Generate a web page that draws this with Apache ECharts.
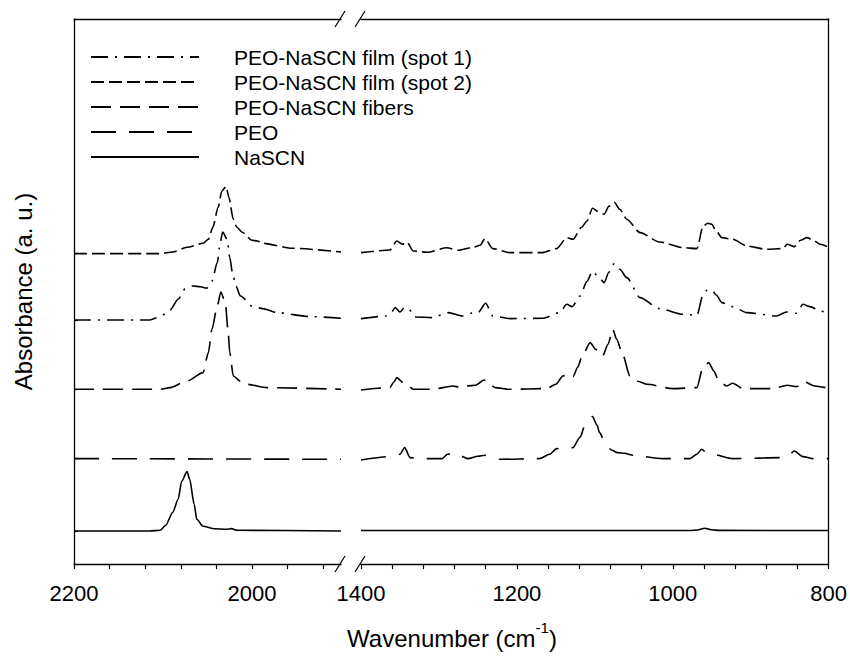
<!DOCTYPE html>
<html>
<head>
<meta charset="utf-8">
<title>FTIR spectra</title>
<script src="https://cdn.jsdelivr.net/npm/echarts@6/dist/echarts.min.js"></script>
<style>
html, body { margin: 0; padding: 0; background: #fff; }
#chart { width: 850px; height: 656px; }
</style>
</head>
<body>
<div id="chart"></div>
<script>
// spectra as [wavenumber, absorbance (a.u., already offset)]
const spot1 = [
  [2200, 2.44], [2115, 2.44], [2103, 2.474], [2092, 2.54], [2083, 2.647], [2075, 2.754], [2066, 2.78],
  [2058, 2.772], [2051, 2.757], [2045, 2.83], [2039, 3.014], [2036, 3.197], [2033, 3.32], [2028, 3.247],
  [2025, 3.067], [2022, 2.914], [2018, 2.777], [2013, 2.68], [1999, 2.574], [1988, 2.554], [1972, 2.514],
  [1935, 2.474], [1900, 2.457],
  [1400, 2.454], [1367, 2.48], [1361, 2.517], [1356, 2.564], [1350, 2.52], [1345, 2.557], [1340, 2.564],
  [1331, 2.47], [1308, 2.464], [1288, 2.514], [1270, 2.48], [1260, 2.507], [1250, 2.514], [1240, 2.607],
  [1231, 2.48], [1209, 2.454], [1167, 2.457], [1145, 2.514], [1136, 2.597], [1129, 2.574], [1119, 2.68],
  [1110, 2.827], [1103, 2.93], [1096, 2.877], [1088, 2.814], [1082, 2.917], [1075, 3.004], [1068, 2.947],
  [1059, 2.864], [1042, 2.664], [1017, 2.554], [987, 2.497], [969, 2.487], [961, 2.697], [956, 2.737],
  [950, 2.74], [944, 2.687], [937, 2.614], [923, 2.574], [905, 2.514], [867, 2.48], [854, 2.52],
  [841, 2.507], [833, 2.597], [824, 2.574], [811, 2.53], [800, 2.507]
];
const spot2 = [
  [2200, 3.104], [2103, 3.104], [2089, 3.12], [2073, 3.167], [2055, 3.207], [2049, 3.247], [2044, 3.367],
  [2038, 3.567], [2034, 3.727], [2029, 3.777], [2026, 3.667], [2021, 3.447], [2017, 3.367], [2011, 3.317],
  [2000, 3.237], [1994, 3.23], [1988, 3.207], [1954, 3.157], [1900, 3.12],
  [1400, 3.114], [1363, 3.14], [1354, 3.23], [1347, 3.197], [1341, 3.22], [1333, 3.13], [1315, 3.117],
  [1290, 3.162], [1276, 3.137], [1256, 3.167], [1247, 3.187], [1241, 3.254], [1231, 3.154], [1209, 3.114],
  [1167, 3.114], [1149, 3.154], [1136, 3.264], [1128, 3.247], [1117, 3.367], [1110, 3.43], [1103, 3.557],
  [1096, 3.527], [1088, 3.497], [1082, 3.577], [1075, 3.617], [1068, 3.547], [1059, 3.447], [1042, 3.314],
  [1017, 3.22], [987, 3.164], [969, 3.154], [961, 3.38], [955, 3.407], [950, 3.397], [944, 3.327],
  [937, 3.264], [923, 3.247], [905, 3.18], [880, 3.147], [859, 3.154], [853, 3.197], [844, 3.174],
  [836, 3.237], [828, 3.264], [820, 3.24], [811, 3.197], [800, 3.167]
];
const fibers = [
  [2200, 1.747], [2103, 1.747], [2092, 1.764], [2073, 1.83], [2055, 1.914], [2049, 2.114], [2045, 2.347],
  [2039, 2.58], [2035, 2.72], [2030, 2.614], [2027, 2.347], [2025, 2.114], [2021, 1.88], [2013, 1.827],
  [2006, 1.797], [1983, 1.764], [1900, 1.747],
  [1400, 1.74], [1363, 1.764], [1358, 1.817], [1354, 1.864], [1346, 1.814], [1341, 1.797], [1333, 1.747],
  [1308, 1.747], [1282, 1.78], [1273, 1.767], [1264, 1.78], [1253, 1.787], [1242, 1.84], [1235, 1.797],
  [1228, 1.764], [1209, 1.747], [1162, 1.754], [1150, 1.797], [1141, 1.88], [1135, 1.897], [1128, 1.874],
  [1122, 1.967], [1117, 2.064], [1106, 2.214], [1099, 2.147], [1090, 2.08], [1083, 2.197], [1077, 2.347],
  [1072, 2.247], [1065, 2.114], [1055, 1.88], [1045, 1.827], [1033, 1.797], [1000, 1.754], [969, 1.764],
  [962, 1.947], [954, 2.014], [947, 1.927], [942, 1.847], [931, 1.78], [923, 1.807], [910, 1.754],
  [872, 1.754], [853, 1.787], [841, 1.774], [831, 1.82], [818, 1.78], [800, 1.757]
];
const peo = [
  [2200, 1.054], [1900, 1.047],
  [1400, 1.04], [1363, 1.074], [1350, 1.097], [1344, 1.164], [1337, 1.064], [1324, 1.054], [1296, 1.054],
  [1289, 1.097], [1280, 1.114], [1271, 1.077], [1263, 1.054], [1250, 1.077], [1241, 1.087], [1231, 1.057],
  [1222, 1.047], [1171, 1.054], [1158, 1.097], [1149, 1.154], [1139, 1.14], [1128, 1.164], [1119, 1.267],
  [1113, 1.38], [1103, 1.474], [1097, 1.387], [1094, 1.314], [1085, 1.18], [1078, 1.137], [1071, 1.114],
  [1062, 1.107], [1051, 1.087], [1013, 1.054], [978, 1.054], [969, 1.097], [963, 1.147], [956, 1.112],
  [949, 1.097], [923, 1.054], [859, 1.064], [850, 1.097], [844, 1.13], [833, 1.074], [821, 1.054],
  [800, 1.054]
];
const nascn = [
  [2200, 0.33], [2115, 0.33], [2103, 0.337], [2097, 0.387], [2089, 0.517], [2083, 0.647], [2079, 0.827],
  [2073, 0.924], [2070, 0.847], [2065, 0.597], [2062, 0.447], [2055, 0.377], [2042, 0.352], [2029, 0.347],
  [2023, 0.354], [2017, 0.337], [1900, 0.33],
  [1400, 0.335], [978, 0.335], [968, 0.34], [959, 0.358], [950, 0.342], [940, 0.336], [800, 0.335]
];

const seriesNames = ['PEO-NaSCN film (spot 1)', 'PEO-NaSCN film (spot 2)', 'PEO-NaSCN fibers', 'PEO', 'NaSCN'];
const seriesData = [spot1, spot2, fibers, peo, nascn];
const dashes = [[17, 7, 2, 7], [13, 5], [20, 9], [25, 13], 'solid'];

// axis break: 2200-1900 | 1400-800
const highRange = [1900, 2200];
const lowRange = [800, 1400];
const highTicks = [2200, 2160, 2120, 2080, 2040, 2000, 1960, 1920];
const highLabels = [2200, 2000];
const lowTicks = [1400, 1360, 1320, 1280, 1240, 1200, 1160, 1120, 1080, 1040, 1000, 960, 920, 880, 840, 800];
const lowLabels = [1400, 1200, 1000, 800];
const baselineTicks = [0.33, 1.054, 1.747, 2.44, 3.104];
const yRange = [0, 5.45];

const font = "'Liberation Sans', Arial, sans-serif";
const black = '#000';

const chart = echarts.init(document.getElementById('chart'), null, { renderer: 'svg' });

function bottomAxis(gridIndex, range, ticks, labels) {
  return {
    type: 'value', gridIndex, min: range[0], max: range[1], inverse: true, position: 'bottom',
    splitLine: { show: false },
    axisLine: { lineStyle: { color: black, width: 1.3 } },
    axisTick: { show: true, inside: false, length: 5, customValues: ticks, lineStyle: { color: black, width: 1.2 } },
    axisLabel: {
      customValues: labels, margin: 18, color: black, fontSize: 22, fontFamily: font,
      formatter: v => String(v)
    }
  };
}
function topAxis(gridIndex, range) {
  return {
    type: 'value', gridIndex, min: range[0], max: range[1], inverse: true, position: 'top',
    splitLine: { show: false },
    axisLine: { lineStyle: { color: black, width: 1.3 } },
    axisTick: { show: false }, axisLabel: { show: false }
  };
}

const series = [];
seriesData.forEach((data, i) => {
  [[0, highRange], [1, lowRange]].forEach(([g, r]) => {
    series.push({
      name: seriesNames[i],
      type: 'line',
      xAxisIndex: g,
      yAxisIndex: g,
      data: data.filter(p => p[0] >= r[0] && p[0] <= r[1]),
      symbol: 'none',
      smooth: 0.25,
      smoothMonotone: 'x',
      lineStyle: { color: black, width: 1.6, type: dashes[i] },
      itemStyle: { color: black },
      silent: true
    });
  });
});

const option = {
  animation: false,
  backgroundColor: '#fff',
  grid: [
    { left: 74, top: 19, width: 267, bottom: 92 },
    { left: 361, top: 19, right: 21, bottom: 92 }
  ],
  xAxis: [
    bottomAxis(0, highRange, highTicks, highLabels),
    bottomAxis(1, lowRange, lowTicks, lowLabels),
    topAxis(0, highRange),
    topAxis(1, lowRange)
  ],
  yAxis: [
    {
      type: 'value', gridIndex: 0, min: yRange[0], max: yRange[1], position: 'left',
      name: 'Absorbance (a. u.)', nameLocation: 'middle', nameGap: 39,
      nameTextStyle: { color: black, fontSize: 24, fontFamily: font },
      splitLine: { show: false },
      axisLine: { show: true, lineStyle: { color: black, width: 1.3 } },
      axisTick: { show: true, inside: true, length: 4, customValues: baselineTicks, lineStyle: { color: black, width: 1.2 } },
      axisLabel: { show: false }
    },
    {
      type: 'value', gridIndex: 1, min: yRange[0], max: yRange[1], position: 'right',
      splitLine: { show: false },
      axisLine: { show: true, lineStyle: { color: black, width: 1.3 } },
      axisTick: { show: false }, axisLabel: { show: false }
    }
  ],
  legend: {
    data: seriesNames,
    orient: 'vertical',
    left: 90, top: 45,
    padding: 0,
    itemWidth: 108, itemHeight: 24, itemGap: 1,
    selectedMode: false,
    itemStyle: { opacity: 0, borderWidth: 0 },
    textStyle: { color: black, fontSize: 21, fontFamily: font, lineHeight: 24, padding: [0, 0, 0, 30] }
  },
  graphic: [
    // break marks on the bottom and top axis lines
    { type: 'line', shape: { x1: 335, y1: 572, x2: 345, y2: 556 }, style: { stroke: black, lineWidth: 1.2 } },
    { type: 'line', shape: { x1: 355, y1: 572, x2: 365, y2: 556 }, style: { stroke: black, lineWidth: 1.2 } },
    { type: 'line', shape: { x1: 335, y1: 27, x2: 345, y2: 11 }, style: { stroke: black, lineWidth: 1.2 } },
    { type: 'line', shape: { x1: 355, y1: 27, x2: 365, y2: 11 }, style: { stroke: black, lineWidth: 1.2 } },
    {
      type: 'text', x: 452, y: 635,
      style: {
        text: '{a|Wavenumber (cm}{s|-1}{a|)}',
        align: 'center', verticalAlign: 'middle',
        fill: black, fontFamily: font,
        rich: {
          a: { fontSize: 24, fontFamily: font, fill: black, lineHeight: 30, verticalAlign: 'bottom' },
          s: { fontSize: 15, fontFamily: font, fill: black, lineHeight: 30, verticalAlign: 'top' }
        }
      }
    }
  ],
  series
};

chart.setOption(option);
</script>
</body>
</html>
